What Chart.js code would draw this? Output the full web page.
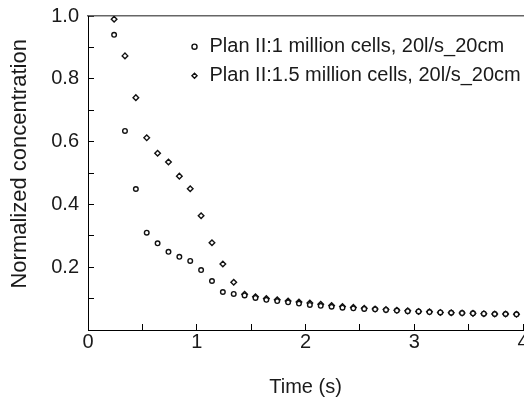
<!DOCTYPE html>
<html>
<head>
<meta charset="utf-8">
<script src="https://cdn.jsdelivr.net/npm/chart.js@4"></script>
<style>
  body { margin: 0; background: #fff; }
  #wrap { width: 524px; height: 399px; }
</style>
</head>
<body>
<div id="wrap"><canvas id="concChart"></canvas></div>
<script>
const times = [0.24, 0.34, 0.44, 0.54, 0.64, 0.74, 0.84, 0.94, 1.04, 1.14,
  1.24, 1.34, 1.44, 1.54, 1.64, 1.74, 1.84, 1.94, 2.04, 2.14,
  2.24, 2.34, 2.44, 2.54, 2.64, 2.74, 2.84, 2.94, 3.04, 3.14,
  3.24, 3.34, 3.44, 3.54, 3.64, 3.74, 3.84, 3.94];

const conc1M = [0.94, 0.634, 0.449, 0.31, 0.276, 0.249, 0.233, 0.22, 0.191, 0.156,
  0.121, 0.115, 0.110, 0.102, 0.096, 0.092, 0.088, 0.084, 0.080, 0.077,
  0.074, 0.071, 0.069, 0.067, 0.066, 0.064, 0.062, 0.060, 0.059, 0.057,
  0.056, 0.055, 0.054, 0.053, 0.052, 0.051, 0.051, 0.050];

const conc15M = [0.99, 0.873, 0.74, 0.612, 0.563, 0.535, 0.49, 0.45, 0.364, 0.278,
  0.21, 0.152, 0.114, 0.106, 0.100, 0.096, 0.092, 0.089, 0.086, 0.082,
  0.078, 0.075, 0.072, 0.069, 0.067, 0.065, 0.063, 0.061, 0.059, 0.058,
  0.056, 0.055, 0.054, 0.053, 0.052, 0.051, 0.051, 0.050];

const seriesNames = ['Plan II:1 million cells, 20l/s_20cm', 'Plan II:1.5 million cells, 20l/s_20cm'];

const toPoints = (ys) => times.map((t, i) => ({ x: t, y: ys[i] }));

const textColor = '#1a1a1a';
const fontFamily = '"Liberation Sans", Arial, sans-serif';
const font20 = { family: fontFamily, size: 20 };

// no extra room for half labels at the axis ends
const noEndPadding = (s) => {
  s.paddingLeft = 0;
  s.paddingRight = 0;
  s.paddingTop = 0;
  s.paddingBottom = 0;
};

// puts the legend inside the plot, upper right
const legendSpot = {
  id: 'legendSpot',
  afterLayout(chart) {
    const lg = chart.legend;
    lg.left = 180.5;
    lg.top = 27.7;
    lg.right = 524;
    lg.bottom = 330;
  }
};

const ctx = document.getElementById('concChart').getContext('2d');
const concChart = new Chart(ctx, {
  type: 'scatter',
  data: {
    datasets: [{
      label: seriesNames[0],
      data: toPoints(conc1M),
      pointStyle: 'circle',
      pointRadius: 2.3,
      borderWidth: 1.4,
      borderColor: '#111',
      backgroundColor: '#fff'
    }, {
      label: seriesNames[1],
      data: toPoints(conc15M),
      pointStyle: 'rectRot',
      pointRadius: 2.8,
      borderWidth: 1.4,
      borderColor: '#111',
      backgroundColor: '#fff'
    }]
  },
  options: {
    responsive: true,
    maintainAspectRatio: false,
    animation: false,
    layout: { autoPadding: false, padding: { top: 16, right: 1, left: 0, bottom: 0 } },
    plugins: {
      tooltip: { enabled: false },
      legend: {
        position: 'chartArea',
        align: 'start',
        labels: {
          usePointStyle: true,
          boxWidth: 10,
          boxHeight: 3.6,
          padding: 9,
          color: textColor,
          font: font20
        }
      }
    },
    scales: {
      x: {
        type: 'linear',
        min: 0,
        max: 4,
        afterFit: (s) => { s.height = 69; noEndPadding(s); },
        border: { color: '#000', width: 1 },
        grid: { drawOnChartArea: false, tickLength: -6, tickColor: '#000' },
        ticks: {
          stepSize: 0.5,
          autoSkip: false,
          maxRotation: 0,
          padding: 6,
          color: textColor,
          font: font20,
          callback: (v) => Number.isInteger(v) ? String(v) : ''
        },
        title: {
          display: true,
          text: 'Time (s)',
          color: textColor,
          font: font20,
          padding: { top: 0, bottom: 0 }
        }
      },
      x2: {
        type: 'linear',
        position: 'top',
        display: true,
        min: 0,
        max: 4,
        afterFit: (s) => { s.height = 0; noEndPadding(s); },
        border: { display: true, color: '#666', width: 1.5 },
        grid: { display: false },
        ticks: { display: false }
      },
      y: {
        min: 0,
        max: 1,
        afterFit: (s) => { s.width = 88; noEndPadding(s); },
        border: { color: '#000', width: 1 },
        grid: { drawOnChartArea: false, tickLength: -6, tickColor: '#000' },
        ticks: {
          stepSize: 0.1,
          autoSkip: false,
          padding: 15,
          color: textColor,
          font: font20,
          callback: (v) => {
            const k = Math.round(v * 10);
            return (k > 0 && k % 2 === 0) ? (k / 10).toFixed(1) : '';
          }
        },
        title: {
          display: true,
          // leading spaces lift the rotated title a little, as in the original
          text: '   Normalized concentration',
          color: textColor,
          font: { family: fontFamily, size: 22 },
          padding: { top: 7, bottom: 0 }
        }
      }
    }
  },
  plugins: [legendSpot]
});
</script>
</body>
</html>
